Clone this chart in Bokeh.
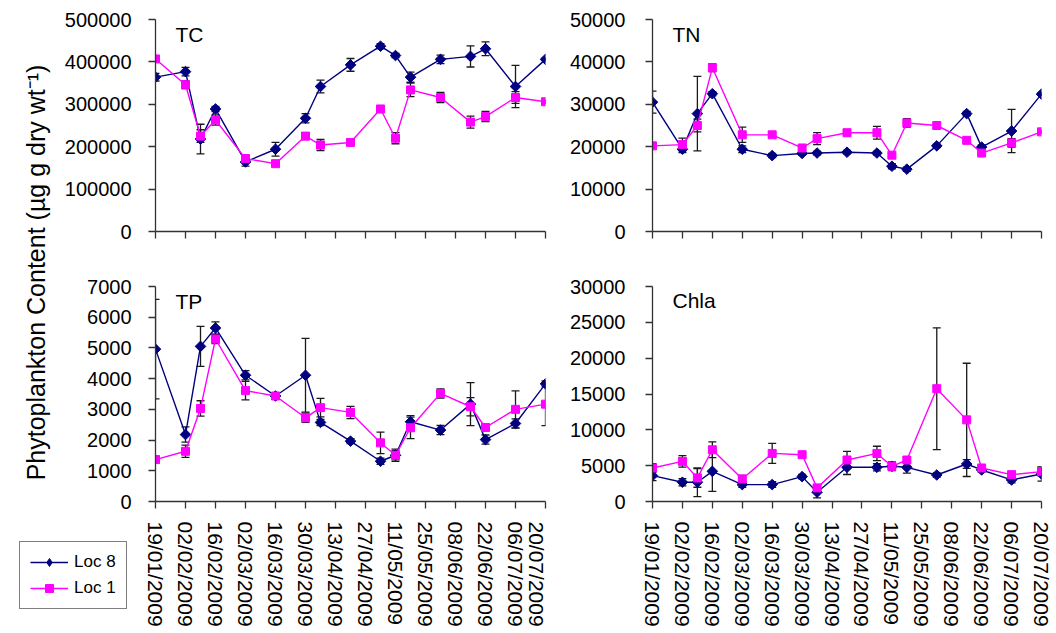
import numpy as np
import pandas as pd
from bokeh.plotting import figure
from bokeh.layouts import row, column
from bokeh.models import (ColumnDataSource, Whisker, TeeHead, FixedTicker, DatetimeTickFormatter,
                          CustomJSTickFormatter, NumeralTickFormatter, Label, Legend, LegendItem,
                          Range1d)
from bokeh.core.properties import value
from bokeh.embed import file_html
from bokeh.resources import INLINE

# ---------------- data ----------------
sample_dates = ["19/01/2009", "02/02/2009", "09/02/2009", "16/02/2009", "02/03/2009", "16/03/2009",
                "30/03/2009", "06/04/2009", "20/04/2009", "04/05/2009", "11/05/2009", "18/05/2009",
                "01/06/2009", "15/06/2009", "22/06/2009", "06/07/2009", "20/07/2009"]
tick_labels = ["19/01/2009", "02/02/2009", "16/02/2009", "02/03/2009", "16/03/2009", "30/03/2009",
               "13/04/2009", "27/04/2009", "11/05/2009", "25/05/2009", "08/06/2009", "22/06/2009",
               "06/07/2009", "20/07/2009"]
series_names = ["Loc 8", "Loc 1"]
panel_names = ["TC", "TN", "TP", "Chla"]
y_title = "Phytoplankton Content (\u00b5g g dry wt\u207b\u00b9)"

tc_loc8 = [364000, 377000, 218000, 289000, 164000, 194000, 267000, 342000, 393000, 437000, 415000,
           364000, 406000, 413000, 431000, 342000, 406000]
tc_loc8_err = [9000, 10000, 35000, 6000, 10000, 16000, 11000, 15000, 15000, 6000, 5000, 12000,
               10000, 25000, 16000, 50000, 3000]
tc_loc1 = [407000, 346000, 225000, 263000, 172000, 160000, 225000, 204000, 210000, 289000, 220000,
           334000, 316000, 258000, 271000, 316000, 306000]
tc_loc1_err = [5000, 9000, 15000, 12000, 8000, 6000, 8000, 13000, 5000, 7000, 13000, 16000, 12000,
               14000, 12000, 14000, 4000]

tn_loc8 = [30500, 19400, 27800, 32500, 19400, 17900, 18400, 18500, 18700, 18500, 15400, 14700,
           20200, 27800, 19900, 23700, 32400]
tn_loc8_err = [2600, 800, 8800, 500, 800, 500, 400, 400, 400, 400, 600, 500, 400, 500, 500, 5100, 300]
tn_loc1 = [20200, 20500, 25000, 38600, 22800, 22800, 19700, 21900, 23300, 23300, 18000, 25600,
           25000, 21500, 18500, 20900, 23500]
tn_loc1_err = [300, 1500, 1500, 900, 1800, 400, 400, 1400, 400, 1500, 400, 1000, 700, 400, 500,
               1000, 300]

tp_loc8 = [4960, 2180, 5050, 5650, 4110, 3435, 4110, 2575, 1965, 1310, 1505, 2595, 2325, 3170, 2015,
           2540, 3830]
tp_loc8_err = [1620, 250, 650, 200, 150, 100, 1200, 100, 80, 100, 150, 200, 150, 700, 150, 150, 100]
tp_loc1 = [1365, 1635, 3030, 5290, 3610, 3435, 2725, 3055, 2900, 1910, 1505, 2400, 3520, 3085, 2410,
           3000, 3170]
tp_loc1_err = [100, 200, 250, 150, 300, 100, 150, 300, 200, 350, 200, 350, 150, 300, 100, 600, 700]

chla_loc8 = [3610, 2690, 2690, 4210, 2360, 2360, 3470, 1300, 4770, 4770, 4910, 4770, 3700, 5230,
             4400, 3010, 3840]
chla_loc8_err = [700, 500, 2000, 2800, 400, 400, 300, 800, 1000, 500, 400, 800, 300, 600, 300, 400,
                 1000]
chla_loc1 = [4680, 5600, 3290, 7220, 3150, 6710, 6530, 1900, 5790, 6710, 4910, 5790, 15740, 11390,
             4680, 3750, 4170]
chla_loc1_err = [600, 800, 1300, 1100, 500, 1400, 300, 400, 1200, 1000, 600, 300, 8500, 7900, 300,
                 300, 600]

y_max = [500000, 50000, 7000, 30000]
y_step = [100000, 10000, 1000, 5000]

# ---------------- styling ----------------
FONT = "Liberation Sans"
NAVY = "#000080"
MAGENTA = "#FF00FF"
AXIS = "#333333"
ERR = "#1a1a1a"
TICK_FONT = "20px"
DIAMOND = dict(marker="square", angle=np.pi / 4, size=7.5)
LEG_DIAMOND = dict(marker="diamond", size=11)
SQUARE = dict(marker="square", size=8)

dates_ms = [pd.to_datetime(d, format="%d/%m/%Y").value // 10**6 for d in sample_dates]
ticks_ms = [pd.to_datetime(d, format="%d/%m/%Y").value // 10**6 for d in tick_labels]
fmt = "%d/%m/%Y"

TOTAL_H = 633
H1, H2 = 250, 383
HELPER_W = 140


def style_axes(p):
    for ax in (p.xaxis, p.yaxis):
        ax.axis_line_color = AXIS
        ax.axis_line_width = 1.3
        ax.major_tick_line_color = AXIS
        ax.major_tick_line_width = 1.3
        ax.major_tick_out = 7
        ax.major_tick_in = 0
        ax.minor_tick_line_color = None
        ax.major_label_text_font = FONT
        ax.major_label_text_color = "black"


def make_panel(name, s8, e8, s1, e1, ymax, ystep, width, height, mbl, mbr, mbt, mbb,
               show_dates, show_ylabels):
    p = figure(width=width, height=height, x_axis_type="datetime",
               x_range=Range1d(ticks_ms[0], ticks_ms[-1]), y_range=Range1d(0, ymax),
               toolbar_location=None, output_backend="svg",
               min_border_left=mbl, min_border_right=mbr, min_border_top=mbt, min_border_bottom=mbb)
    p.grid.visible = False
    p.outline_line_color = None
    p.background_fill_color = "white"
    p.border_fill_color = "white"

    src8 = ColumnDataSource(dict(x=dates_ms, y=s8,
                                 lo=[a - b for a, b in zip(s8, e8)], hi=[a + b for a, b in zip(s8, e8)]))
    src1 = ColumnDataSource(dict(x=dates_ms, y=s1,
                                 lo=[a - b for a, b in zip(s1, e1)], hi=[a + b for a, b in zip(s1, e1)]))
    p.line("x", "y", source=src8, line_color=NAVY, line_width=1.4)
    p.scatter("x", "y", source=src8, fill_color=NAVY, line_color=NAVY, **DIAMOND)
    p.line("x", "y", source=src1, line_color=MAGENTA, line_width=1.4)
    p.scatter("x", "y", source=src1, fill_color=MAGENTA, line_color=MAGENTA, **SQUARE)

    for src in (src8, src1):
        p.add_layout(Whisker(base="x", upper="hi", lower="lo", source=src, line_color=ERR, line_width=1.3,
                             upper_head=TeeHead(size=8, line_color=ERR, line_width=1.3),
                             lower_head=TeeHead(size=8, line_color=ERR, line_width=1.3)))

    style_axes(p)
    p.yaxis.ticker = FixedTicker(ticks=list(range(0, ymax + 1, ystep)))
    if show_ylabels:
        p.yaxis.formatter = NumeralTickFormatter(format="0")
        p.yaxis.major_label_text_font_size = TICK_FONT
        p.yaxis.major_label_standoff = 20
    else:
        p.yaxis.formatter = CustomJSTickFormatter(code="return ''")
        p.yaxis.major_label_text_font_size = "1px"
        p.yaxis.major_label_standoff = 0

    p.xaxis.ticker = FixedTicker(ticks=ticks_ms)
    if show_dates:
        p.xaxis.formatter = DatetimeTickFormatter(
            microseconds=fmt, milliseconds=fmt, seconds=fmt, minsec=fmt, minutes=fmt,
            hourmin=fmt, hours=fmt, days=fmt, months=fmt, years=fmt)
        p.xaxis.major_label_orientation = "vertical"
        p.xaxis.major_label_text_font_size = "21px"
        p.xaxis.major_label_standoff = 13
    else:
        p.xaxis.formatter = CustomJSTickFormatter(code="return ''")
        p.xaxis.major_label_text_font_size = "1px"
        p.xaxis.major_label_standoff = 0

    frame_h = height - mbt - mbb
    frame_w = width - mbl - mbr
    span = ticks_ms[-1] - ticks_ms[0]
    p.add_layout(Label(x=ticks_ms[0] + span * 20.0 / frame_w, y=ymax * (1 - 3.0 / frame_h), text=name,
                       text_font=FONT, text_font_size="21px", text_baseline="top", text_align="left",
                       text_color="black"))
    return p


# left panels: frame x 155..545 ; right panels: frame x 652..1041
p_tc = make_panel(panel_names[0], tc_loc8, tc_loc8_err, tc_loc1, tc_loc1_err, y_max[0], y_step[0],
                  407, H1, 15, 2, 19, 19, False, False)
p_tn = make_panel(panel_names[1], tn_loc8, tn_loc8_err, tn_loc1, tn_loc1_err, y_max[1], y_step[1],
                  505, H1, 105, 11, 19, 19, False, True)
p_tp = make_panel(panel_names[2], tp_loc8, tp_loc8_err, tp_loc1, tp_loc1_err, y_max[2], y_step[2],
                  407, H2, 15, 2, 36, 132, True, False)
p_ch = make_panel(panel_names[3], chla_loc8, chla_loc8_err, chla_loc1, chla_loc1_err, y_max[3], y_step[3],
                  505, H2, 105, 11, 35, 132, True, True)


# ---------------- left strip: y title, left tick labels, legend ----------------
def strip_range(vmax, top_px, bottom_px):
    k = vmax / float(bottom_px - top_px)
    return Range1d(-(TOTAL_H - bottom_px) * k, vmax + top_px * k)


helper = figure(width=HELPER_W, height=TOTAL_H, x_range=Range1d(0, HELPER_W), y_range=Range1d(0, TOTAL_H),
                toolbar_location=None, output_backend="svg", min_border=0,
                x_axis_location=None, y_axis_location=None)
helper.outline_line_color = None
helper.background_fill_color = "white"
helper.border_fill_color = "white"
helper.grid.visible = False
helper.extra_y_ranges = {"tc": strip_range(y_max[0], 19, 231), "tp": strip_range(y_max[2], 286, 501)}

for rname, vmax, step in (("tc", y_max[0], y_step[0]), ("tp", y_max[2], y_step[2])):
    tv = list(range(0, vmax + 1, step))
    helper.text(x=[131] * len(tv), y=tv, text=[str(v) for v in tv], y_range_name=rname,
                text_align="right", text_baseline="middle", text_font=value(FONT),
                text_font_size=TICK_FONT, text_color="black")

helper.add_layout(Label(x=35, y=TOTAL_H - 272, text=y_title, angle=np.pi / 2, text_align="center",
                        text_baseline="middle", text_font=FONT, text_font_size="25px", text_color="black"))

# legend-only renderers (no visible data points)
leg_src = ColumnDataSource(dict(x=[np.nan], y=[np.nan]))
lg8 = helper.line("x", "y", source=leg_src, line_color=NAVY, line_width=1.4)
lm8 = helper.scatter("x", "y", source=leg_src, fill_color=NAVY, line_color=NAVY, **LEG_DIAMOND)
lg1 = helper.line("x", "y", source=leg_src, line_color=MAGENTA, line_width=1.4)
lm1 = helper.scatter("x", "y", source=leg_src, fill_color=MAGENTA, line_color=MAGENTA, **SQUARE)
legend = Legend(items=[LegendItem(label=series_names[0], renderers=[lg8, lm8], index=0),
                       LegendItem(label=series_names[1], renderers=[lg1, lm1], index=0)],
                location=(19, TOTAL_H - 609), orientation="vertical",
                border_line_color="black", border_line_width=1, background_fill_color="white",
                background_fill_alpha=1.0, label_text_font=FONT, label_text_font_size="17px",
                label_text_color="black",
                glyph_width=38, glyph_height=20, label_height=20, padding=10, spacing=6,
                label_standoff=6, margin=0)
helper.add_layout(legend)

layout = row(helper, column(row(p_tc, p_tn), row(p_tp, p_ch)))

open("out.html", "w").write(file_html(layout, INLINE))
